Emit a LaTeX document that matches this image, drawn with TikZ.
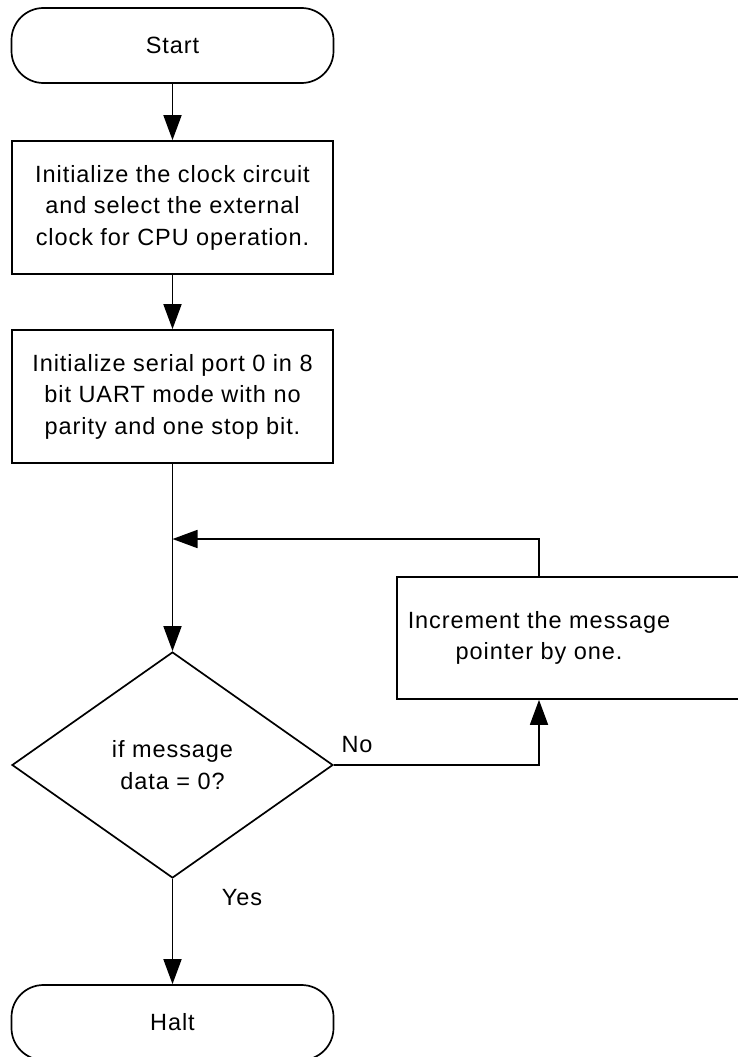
\documentclass[tikz,border=0pt]{standalone}
\usepackage{fontspec}
\setmainfont{Liberation Sans}[LetterSpace=4]
\usetikzlibrary{arrows.meta,shapes.geometric}

\begin{document}
\begin{tikzpicture}[
	x=1pt,
	y=-1pt,
	font=\fontsize{23.5}{31.5}\selectfont,
	line width=1.7pt,
	terminal/.style={draw, rounded corners=32pt, minimum width=322pt, minimum height=75pt, inner sep=0pt},
	procbox/.style={draw, minimum width=321pt, minimum height=133pt, align=center, inner sep=0pt},
	decision/.style={draw, diamond, minimum width=321pt, minimum height=226pt, align=center, inner sep=0pt},
	flow/.style={-{Triangle[length=25pt,width=18pt]}}
	]
	\useasboundingbox (0,0) rectangle (738,1057);
	\clip (0,0) rectangle (738,1057);

	% --- main column ---
	\node[terminal] (start) at (172.5,45.5) {Start};
	\node[procbox] (clk) at (172.5,207.5) {Initialize the clock circuit\\and select the external\\clock for CPU operation.};
	\node[procbox] (uart) at (172.5,396.5) {Initialize serial port 0 in 8\\bit UART mode with no\\parity and one stop bit.};
	\node[decision] (test) at (172.5,765) {if message\\data = 0?};
	\node[terminal] (halt) at (172.5,1022.5) {Halt};

	% --- loop box (runs past the right edge) ---
	\node[draw, minimum width=348pt, minimum height=122pt] (incbox) at (571,638) {};
	\node[align=center] (inctext) at (539,638) {Increment the message\\pointer by one.};

	\coordinate (loop) at (172.5,539);
	\coordinate (up) at (539,539);
	\coordinate (no) at (539,765);

	% --- connectors ---
	\draw[flow] (start.south) -- (clk.north);
	\draw[flow] (clk.south) -- (uart.north);
	\draw[flow] (uart.south) -- (test.north);
	\draw[flow] (test.south) -- (halt.north);
	\draw[flow] (inctext |- incbox.north) -- (up) -- (loop);
	\draw[flow] (test.east) -- (no) -- (inctext |- incbox.south);

	\node (nolab) at (357,745) {No};
	\node (yeslab) at (242,898) {Yes};
\end{tikzpicture}
\end{document}
